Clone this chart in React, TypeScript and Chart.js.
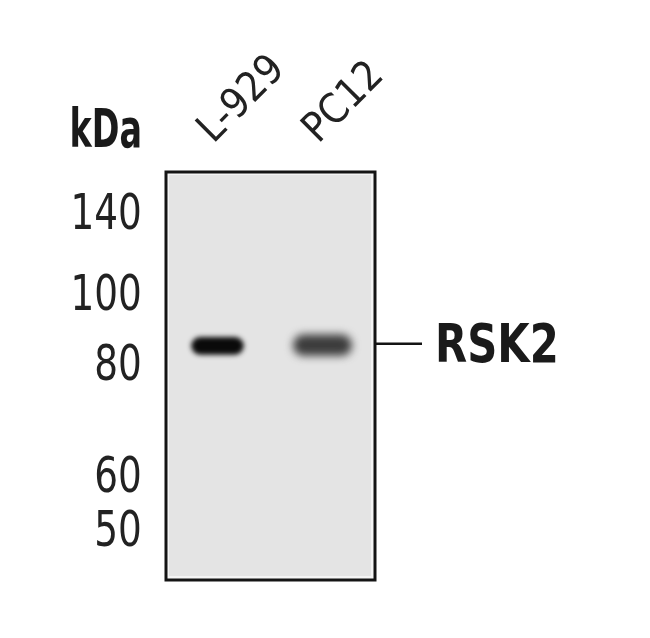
import React, { useEffect, useRef } from "react";
import { Chart, registerables } from "chart.js";

Chart.register(...registerables);

// Lanes (samples) loaded on the gel
const lanes: string[] = ["L-929", "PC12"];
// Molecular-weight marker sizes (kDa) and their migration (% of gel length from top)
const markerKDa: number[] = [140, 100, 80, 60, 50];
const markerMigration: number[] = [11.0, 30.9, 48.0, 75.2, 88.6];
// RSK2 band extent (migration %, top..bottom) in each lane
const bandL929: [number, number] = [40.6, 44.9];
const bandPC12: [number, number] = [40.0, 45.2];
const bandLabel = "RSK2";
const axisTitle = "kDa";

const NARROW = '"Liberation Sans Narrow", "DejaVu Sans Condensed", "Liberation Sans", sans-serif';
const TICK_SQUEEZE = 0.83;

export default function App() {
  const ref = useRef<HTMLCanvasElement | null>(null);

  useEffect(() => {
    if (!ref.current) return;

    const blotPlugin = {
      id: "blot",
      beforeDraw(chart: any) {
        const s = chart.scales.y;
        if (s && !s._narrowPatched) {
          const orig = s.drawLabels.bind(s);
          s.drawLabels = function (area: any) {
            const ctx = this.ctx;
            ctx.save();
            ctx.translate(this.right, 0);
            ctx.scale(TICK_SQUEEZE, 1);
            ctx.translate(-this.right, 0);
            orig(area);
            ctx.restore();
          };
          s._narrowPatched = true;
        }
      },
      beforeDatasetsDraw(chart: any) {
        const { ctx, chartArea: a } = chart;
        ctx.save();
        ctx.fillStyle = "#f4f4f4";
        ctx.fillRect(a.left, a.top, a.right - a.left, a.bottom - a.top);
        ctx.fillStyle = "#e4e4e4";
        ctx.fillRect(a.left + 4, a.top + 4, a.right - a.left - 8, a.bottom - a.top - 8);
        ctx.restore();
      },
      beforeDatasetDraw(chart: any, args: any) {
        const ctx = chart.ctx;
        ctx.save();
        ctx.filter = args.index === 0 ? "blur(2.5px)" : "blur(4px)";
      },
      afterDatasetDraw(chart: any) {
        chart.ctx.restore();
      },
      afterDraw(chart: any) {
        const { ctx, chartArea: a, scales } = chart;
        ctx.save();
        ctx.strokeStyle = "#141414";
        ctx.lineWidth = 3;
        ctx.strokeRect(a.left + 1, a.top + 1, a.right - a.left - 1, a.bottom - a.top - 1);

        // band marker line + label
        const yMid = scales.y.getPixelForValue((bandL929[0] + bandL929[1]) / 2) - 2;
        ctx.lineWidth = 2.5;
        ctx.beginPath();
        ctx.moveTo(a.right, yMid);
        ctx.lineTo(a.right + 47, yMid);
        ctx.stroke();
        const fs = 54;
        ctx.font = `bold ${fs}px ${NARROW}`;
        ctx.fillStyle = "#1a1a1a";
        ctx.textAlign = "left";
        ctx.textBaseline = "alphabetic";
        ctx.save();
        ctx.translate(a.right + 60, yMid + fs * 0.33);
        ctx.scale(0.86, 1);
        ctx.fillText(bandLabel, 0, 0);
        ctx.restore();

        // kDa title
        const ks = 53;
        ctx.font = `bold ${ks}px ${NARROW}`;
        ctx.textAlign = "right";
        ctx.save();
        ctx.translate(scales.y.right - 23, scales.x.bottom - 24);
        ctx.scale(0.7, 1);
        ctx.fillText(axisTitle, 0, 0);
        ctx.restore();
        ctx.restore();
      },
    };

    const chart = new Chart(ref.current, {
      type: "bar",
      data: {
        labels: lanes,
        datasets: [
          {
            label: lanes[0],
            data: [bandL929, null] as any,
            backgroundColor: "#0a0a0a",
            barPercentage: 0.5,
            categoryPercentage: 1,
            borderRadius: 10,
            borderSkipped: false,
            grouped: false,
          } as any,
          {
            label: lanes[1],
            data: [null, bandPC12] as any,
            backgroundColor: "#3c3c3c",
            barPercentage: 0.56,
            categoryPercentage: 1,
            borderRadius: 12,
            borderSkipped: false,
            grouped: false,
          } as any,
        ],
      },
      options: {
        animation: false,
        responsive: true,
        maintainAspectRatio: false,
        layout: { padding: { left: 0, top: 0, right: 275, bottom: 58 } },
        plugins: {
          legend: { display: false },
          tooltip: { enabled: false },
          title: { display: false },
        },
        scales: {
          x: {
            type: "category",
            position: "top",
            offset: true,
            grid: { display: false, drawTicks: false, tickLength: 0 },
            border: { display: false },
            ticks: {
              font: { family: NARROW, size: 41 },
              color: "#222",
              minRotation: 45,
              maxRotation: 45,
              padding: 17,
              labelOffset: 23,
              autoSkip: false,
            },
            afterFit(scale: any) {
              scale.height = 171;
            },
          },
          y: {
            type: "linear",
            reverse: true,
            min: 0,
            max: 100,
            grid: { display: false, drawTicks: false, tickLength: 0 },
            border: { display: false },
            afterBuildTicks(scale: any) {
              scale.ticks = markerMigration.map((v) => ({ value: v }));
            },
            ticks: {
              font: { family: NARROW, size: 50 },
              color: "#222",
              padding: 28,
              callback: (_v: any, i: number) => String(markerKDa[i]),
            },
            afterFit(scale: any) {
              scale.width = 165;
            },
          },
        },
      },
      plugins: [blotPlugin],
    });
    return () => chart.destroy();
  }, []);

  return (
    <div style={{ position: "fixed", left: 0, top: 0, width: 650, height: 638, background: "#fff" }}>
      <canvas ref={ref} />
    </div>
  );
}
